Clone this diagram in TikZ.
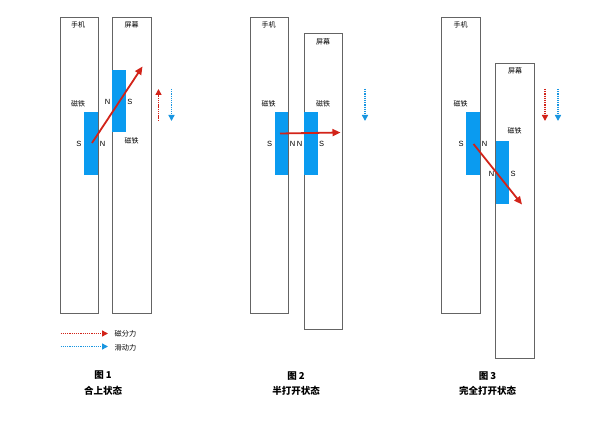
\documentclass[tikz,border=0pt]{standalone}
\usepackage{fontspec}
\setmainfont{Liberation Sans}
\newfontfamily\cjk{Noto Sans CJK SC}
\usetikzlibrary{arrows.meta}
\definecolor{magblue}{RGB}{10,155,240}
\definecolor{forcered}{RGB}{210,35,25}
\definecolor{slideblue}{RGB}{25,150,225}
\definecolor{edgegray}{RGB}{100,100,100}
\begin{document}
\begin{tikzpicture}[x=1pt,y=-1pt,
  panel/.style={draw=edgegray,line width=0.9pt},
  magnet/.style={fill=magblue},
  lbl/.style={font=\cjk\fontsize{7}{8}\selectfont,inner sep=0},
  leg/.style={font=\cjk\fontsize{7.2}{8}\selectfont,inner sep=0},
  pole/.style={font=\fontsize{7.5}{8}\selectfont,inner sep=0},
  captxt/.style={font=\cjk\bfseries\fontsize{9.5}{11}\selectfont,inner sep=0,align=center},
  force/.style={draw=forcered,line width=1.8pt,-{Triangle[length=8pt,width=7pt]}},
  reddot/.style={draw=forcered,line width=1.5pt,dash pattern=on 1.3pt off 0.9pt,-{Triangle[length=6pt,width=6pt]}},
  bluedot/.style={draw=slideblue,line width=1.5pt,dash pattern=on 1.3pt off 0.9pt,-{Triangle[length=6pt,width=6pt]}}
]
\useasboundingbox (0,0) rectangle (600,422);

% ---------- Figure 1 ----------
\draw[panel] (60,17) rectangle (98.5,313);
\draw[panel] (112,17) rectangle (151,313);
\fill[magnet] (84,112) rectangle (98.2,175);
\fill[magnet] (112.3,70) rectangle (126,132.5);
\node[lbl] (p1) at (78,25) {手机};
\node[lbl] (s1) at (131.5,25) {屏幕};
\node[lbl] (m1a) at (78,104) {磁铁};
\node[lbl] (m1b) at (131.5,141) {磁铁};
\node[pole] (s1a) at (79,144) {S};
\node[pole] (n1a) at (102.5,144) {N};
\node[pole] (n1b) at (107.5,101.5) {N};
\node[pole] (s1b) at (130,101.5) {S};
\coordinate (f1a) at (92,143);
\coordinate (f1b) at (142.5,66.5);
\draw[force] (f1a) -- (f1b);
\coordinate (r1a) at (158.5,121);
\coordinate (r1b) at (158.5,89);
\draw[reddot] (r1a) -- (r1b);
\coordinate (b1a) at (171.5,89);
\coordinate (b1b) at (171.5,121);
\draw[bluedot] (b1a) -- (b1b);

% legend
\coordinate (la1) at (60.5,333.5);
\coordinate (la2) at (108,333.5);
\draw[reddot] (la1) -- (la2);
\coordinate (lb1) at (60.5,346.5);
\coordinate (lb2) at (108,346.5);
\draw[bluedot] (lb1) -- (lb2);
\node[leg] (lt1) at (125.5,333.5) {磁分力};
\node[leg] (lt2) at (125.5,348) {滑动力};

\node[captxt] (c1a) at (103,375) {图 1};
\node[captxt] (c1b) at (103,391) {合上状态};

% ---------- Figure 2 ----------
\draw[panel] (250,17) rectangle (288.5,313);
\draw[panel] (304,33.5) rectangle (342.5,329.5);
\fill[magnet] (274.5,112) rectangle (288.2,175);
\fill[magnet] (304.3,112) rectangle (317.5,175);
\node[lbl] (p2) at (268.5,25) {手机};
\node[lbl] (s2) at (323,41.5) {屏幕};
\node[lbl] (m2a) at (268.5,104) {磁铁};
\node[lbl] (m2b) at (323,104) {磁铁};
\node[pole] (s2a) at (269.5,144) {S};
\node[pole] (n2a) at (292.5,144) {N};
\node[pole] (n2b) at (299.5,144) {N};
\node[pole] (s2b) at (321.5,144) {S};
\coordinate (f2a) at (280,133.5);
\coordinate (f2b) at (340.5,132.5);
\draw[force] (f2a) -- (f2b);
\coordinate (b2a) at (365,89);
\coordinate (b2b) at (365,121);
\draw[bluedot] (b2a) -- (b2b);

\node[captxt] (c2a) at (296,376) {图 2};
\node[captxt] (c2b) at (296,391) {半打开状态};

% ---------- Figure 3 ----------
\draw[panel] (441.5,17) rectangle (480.5,313);
\draw[panel] (495.5,63) rectangle (534.5,358.5);
\fill[magnet] (466,112) rectangle (480.2,175);
\fill[magnet] (495.8,141) rectangle (509,204);
\node[lbl] (p3) at (460.5,25) {手机};
\node[lbl] (s3) at (515,70.5) {屏幕};
\node[lbl] (m3a) at (460.5,104) {磁铁};
\node[lbl] (m3b) at (514.5,130.5) {磁铁};
\node[pole] (s3a) at (461,144) {S};
\node[pole] (n3a) at (484.5,144) {N};
\node[pole] (n3b) at (491.5,173.5) {N};
\node[pole] (s3b) at (513,173.5) {S};
\coordinate (f3a) at (473.5,144);
\coordinate (f3b) at (522,204.5);
\draw[force] (f3a) -- (f3b);
\coordinate (r3a) at (545,89);
\coordinate (r3b) at (545,121);
\draw[reddot] (r3a) -- (r3b);
\coordinate (b3a) at (558,89);
\coordinate (b3b) at (558,121);
\draw[bluedot] (b3a) -- (b3b);

\node[captxt] (c3a) at (487.5,376) {图 3};
\node[captxt] (c3b) at (487.5,391) {完全打开状态};
\end{tikzpicture}
\end{document}
